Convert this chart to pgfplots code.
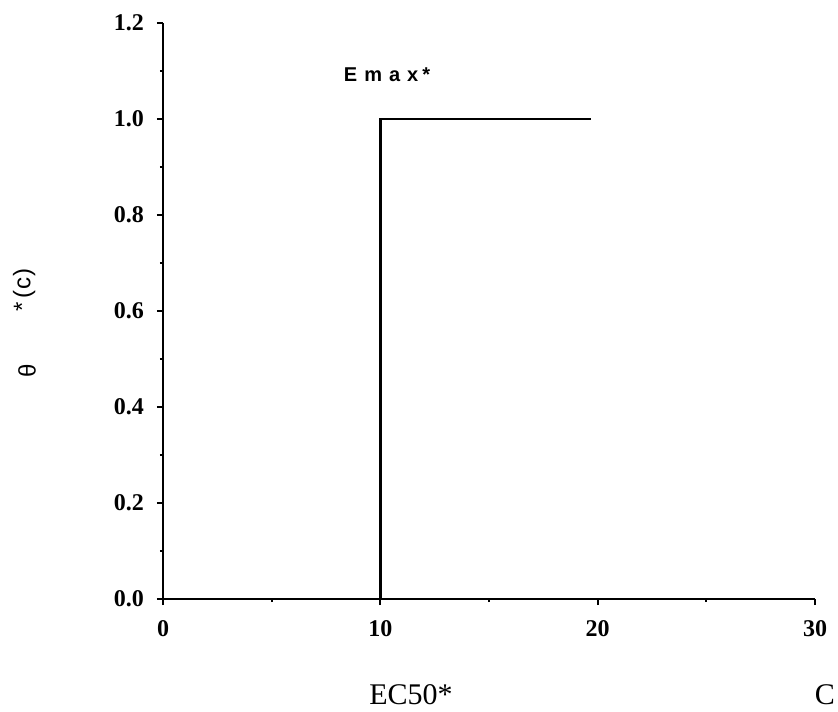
\documentclass[border=0pt]{standalone}
\usepackage{fontspec}
\setmainfont{Liberation Serif}
\newfontfamily\sansf{Liberation Sans}
\usepackage{pgfplots}
\pgfplotsset{compat=1.18}
\begin{document}
\begin{tikzpicture}
\useasboundingbox (-81.5pt,-56pt) rectangle (337.5pt,299.5pt);
\begin{axis}[
  at={(0,0)}, anchor=origin,
  scale only axis,
  width=326pt, height=288pt,
  xmin=0, xmax=30, ymin=0, ymax=1.2,
  axis x line*=bottom, axis y line*=left,
  axis line style={line width=1.2pt,-},
  xtick={0,10,20,30}, ytick={0,0.2,0.4,0.6,0.8,1.0,1.2},
  minor x tick num=1, minor y tick num=1,
  tick align=outside,
  major tick length=3pt, minor tick length=1.6pt,
  tick style={line width=0.9pt,black},
  /pgf/number format/assume math mode=true,
  xticklabel style={font=\fontsize{12}{14}\selectfont\bfseries, yshift=-4pt},
  yticklabel style={font=\fontsize{12}{14}\selectfont\bfseries, xshift=-3pt,
    /pgf/number format/.cd, fixed, fixed zerofill, precision=1},
  clip=false,
]
\addplot[black, line width=1.3pt] coordinates {(0,0) (10,0) (10,1) (19.7,1)};
\node[font=\sansf\bfseries\fontsize{10}{12}\selectfont] at (axis cs:10.31,1.092) {E\hspace{3.5pt}m\hspace{3.5pt}a\hspace{3.5pt}x\hspace{2pt}*};
\node[font=\fontsize{15}{17}\selectfont] at (axis cs:11.41,-0.200) {EC50*};
\node[font=\fontsize{15}{17}\selectfont] at (axis cs:30.45,-0.200) {C};
\node[font=\sansf\fontsize{12}{14}\selectfont, rotate=90] at (axis cs:-6.26,0.475) {θ};
\node[font=\sansf\fontsize{12}{14}\selectfont, rotate=90] at (axis cs:-6.39,0.644) {*\hspace{1.5pt}(\hspace{0.5pt}c\hspace{0.5pt})};
\end{axis}
\end{tikzpicture}
\end{document}
